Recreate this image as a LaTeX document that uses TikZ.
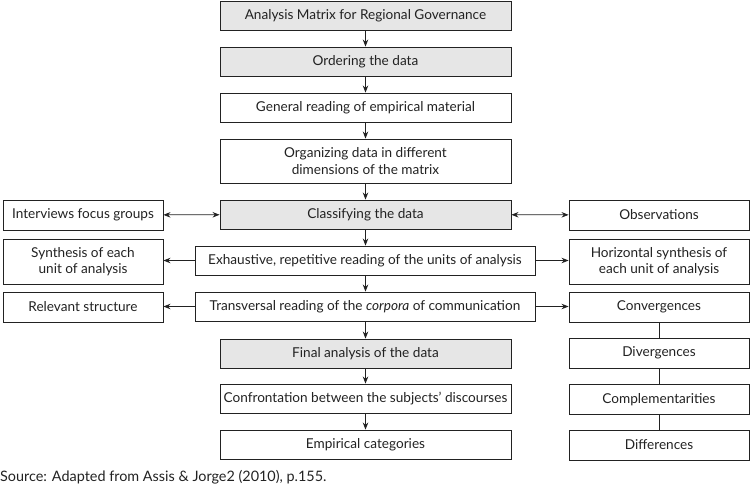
\documentclass[tikz,border=0pt]{standalone}
\usepackage{fontspec}
\setmainfont{Lato}
\usetikzlibrary{arrows.meta}
\definecolor{boxgray}{HTML}{E6E6E6}
\definecolor{lineblk}{HTML}{222222}
\tikzset{
  box/.style={draw=lineblk, line width=0.9pt, rectangle, inner sep=2pt, align=center, font=\fontsize{13.6}{16.6}\selectfont, text=lineblk},
  cbox/.style={box, minimum width=291pt, minimum height=29pt},
  wbox/.style={box, minimum width=340pt, minimum height=29pt},
  lbox/.style={box, minimum width=160pt, minimum height=30pt},
  rbox/.style={box, minimum width=180pt, minimum height=30pt},
  shade/.style={fill=boxgray},
  arr/.style={draw=lineblk, line width=0.8pt, -{Stealth[length=7pt,width=5.5pt]}},
  darr/.style={draw=lineblk, line width=0.8pt, {Stealth[length=7pt,width=5.5pt]}-{Stealth[length=7pt,width=5.5pt]}},
  ln/.style={draw=lineblk, line width=0.8pt}
}
\begin{document}
\begin{tikzpicture}[x=1pt,y=-1pt]
\useasboundingbox (0,0) rectangle (750,492);
\node[cbox,shade] (top) at (365.5,15.5) {Analysis Matrix for Regional Governance};
\node[cbox,shade] (order) at (365.5,61.5) {Ordering the data};
\node[cbox] (general) at (365.5,107.5) {General reading of empirical material};
\node[cbox,minimum height=44pt] (organ) at (365.5,161) {Organizing data in different\\dimensions of the matrix};
\node[cbox,shade] (class) at (365.5,214.5) {Classifying the data};
\node[wbox] (exh) at (365,260.5) {Exhaustive, repetitive reading of the units of analysis};
\node[wbox] (trans) at (365,306.5) {Transversal reading of the \textit{corpora} of communication};
\node[cbox,shade] (final) at (365.5,353.5) {Final analysis of the data};
\node[cbox] (confr) at (365.5,398.5) {Confrontation between the subjects’ discourses};
\node[cbox] (emp) at (365.5,444.5) {Empirical categories};
\node[lbox] (interv) at (83,215) {Interviews focus groups};
\node[lbox,minimum height=45pt] (synth) at (83,261.5) {Synthesis of each\\unit of analysis};
\node[lbox] (relev) at (83,307) {Relevant structure};
\node[rbox] (obs) at (659,215) {Observations};
\node[rbox,minimum height=45pt] (horiz) at (659,261.5) {Horizontal synthesis of\\each unit of analysis};
\node[rbox] (conv) at (659,307) {Convergences};
\node[rbox] (div) at (659,353) {Divergences};
\node[rbox] (compl) at (659,399.5) {Complementarities};
\node[rbox] (diff) at (659,445) {Differences};
\node[anchor=west, inner sep=0pt, font=\fontsize{14.4}{17}\selectfont, text=lineblk] (src) at (0,477) {Source: Adapted from Assis \& Jorge2 (2010), p.155.};
\draw[arr] (top) -- (order);
\draw[arr] (order) -- (general);
\draw[arr] (general) -- (organ);
\draw[arr] (organ) -- (class);
\draw[arr] (class.south) -- (class.south |- exh.north);
\draw[arr] (exh.south -| class.south) -- (class.south |- trans.north);
\draw[arr] (trans.south -| class.south) -- (final.north);
\draw[arr] (final) -- (confr);
\draw[arr] (confr) -- (emp);
\draw[darr] (interv) -- (class);
\draw[darr] (class) -- (obs);
\draw[arr] (exh) -- (synth.east |- exh.center);
\draw[arr] (exh) -- (horiz.west |- exh.center);
\draw[arr] (trans) -- (relev.east |- trans.center);
\draw[arr] (trans) -- (conv.west |- trans.center);
\draw[ln] (conv) -- (div);
\draw[ln] (div) -- (compl);
\draw[ln] (compl) -- (diff);
\end{tikzpicture}
\end{document}
